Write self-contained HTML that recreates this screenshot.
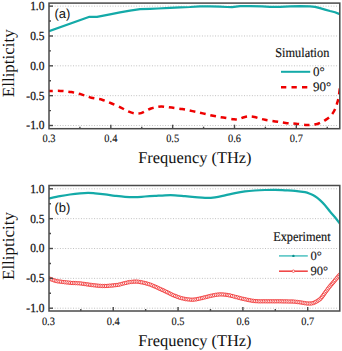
<!DOCTYPE html>
<html><head><meta charset="utf-8"><title>Ellipticity</title>
<style>
html,body{margin:0;padding:0;background:#fff;}
body{width:342px;height:351px;overflow:hidden;}
svg{display:block;text-rendering:geometricPrecision;}
</style></head><body>
<svg width="342" height="351" viewBox="0 0 342 351">
<rect width="342" height="351" fill="#fff"/>
<defs><clipPath id="ct"><rect x="49.0" y="3.1" width="290.8" height="125.6"/></clipPath><clipPath id="cb"><rect x="49.0" y="185.5" width="290.8" height="125.5"/></clipPath></defs>
<line x1="52.00" y1="6.14" x2="338.30" y2="6.14" stroke="#c0c0c0" stroke-width="1" stroke-dasharray="1 1.63"/>
<line x1="52.00" y1="35.98" x2="338.30" y2="35.98" stroke="#c0c0c0" stroke-width="1" stroke-dasharray="1 1.63"/>
<line x1="52.00" y1="65.82" x2="338.30" y2="65.82" stroke="#c0c0c0" stroke-width="1" stroke-dasharray="1 1.63"/>
<line x1="52.00" y1="95.66" x2="338.30" y2="95.66" stroke="#c0c0c0" stroke-width="1" stroke-dasharray="1 1.63"/>
<line x1="52.00" y1="125.50" x2="338.30" y2="125.50" stroke="#c0c0c0" stroke-width="1" stroke-dasharray="1 1.63"/>
<line x1="52.00" y1="188.80" x2="338.30" y2="188.80" stroke="#c0c0c0" stroke-width="1" stroke-dasharray="1 1.63"/>
<line x1="52.00" y1="218.65" x2="338.30" y2="218.65" stroke="#c0c0c0" stroke-width="1" stroke-dasharray="1 1.63"/>
<line x1="52.00" y1="248.50" x2="338.30" y2="248.50" stroke="#c0c0c0" stroke-width="1" stroke-dasharray="1 1.63"/>
<line x1="52.00" y1="278.35" x2="338.30" y2="278.35" stroke="#c0c0c0" stroke-width="1" stroke-dasharray="1 1.63"/>
<line x1="52.00" y1="308.20" x2="338.30" y2="308.20" stroke="#c0c0c0" stroke-width="1" stroke-dasharray="1 1.63"/>
<g clip-path="url(#ct)">
<polyline points="49.00,31.00 89.50,16.60 97.00,16.60 110.00,14.20 120.00,12.20 130.00,10.50 140.00,8.90 150.00,8.60 158.00,8.30 170.00,7.60 180.00,7.20 190.00,6.80 200.00,6.10 210.00,6.10 220.00,6.40 227.00,6.80 232.00,6.90 240.00,5.90 250.00,5.85 262.00,6.10 270.00,6.60 280.00,6.70 290.00,6.10 300.00,5.85 310.00,6.10 315.00,6.70 320.00,7.90 325.00,9.40 330.00,10.80 335.00,12.00 339.80,14.00" fill="none" stroke="#14aaa8" stroke-width="2.2" stroke-linejoin="round" transform="translate(0,0.2)"/>
<path d="M49.00,91.00 C49.33,91.00 49.07,91.02 51.00,91.00 C52.93,90.98 57.22,90.72 60.60,90.90 C63.98,91.08 67.83,91.52 71.30,92.10 C74.77,92.68 78.07,93.47 81.40,94.40 C84.73,95.33 87.87,96.82 91.30,97.70 C94.73,98.58 98.60,98.73 102.00,99.70 C105.40,100.67 108.47,102.13 111.70,103.50 C114.93,104.87 119.02,106.75 121.40,107.90 C123.78,109.05 124.42,109.65 126.00,110.40 C127.58,111.15 129.23,111.88 130.90,112.40 C132.57,112.92 134.30,113.38 136.00,113.50 C137.70,113.62 139.43,113.55 141.10,113.10 C142.77,112.65 144.35,111.57 146.00,110.80 C147.65,110.03 149.33,109.10 151.00,108.50 C152.67,107.90 154.30,107.53 156.00,107.20 C157.70,106.87 159.45,106.55 161.20,106.50 C162.95,106.45 164.73,106.72 166.50,106.90 C168.27,107.08 169.18,107.23 171.80,107.60 C174.42,107.97 178.75,108.52 182.20,109.10 C185.65,109.68 189.07,110.38 192.50,111.10 C195.93,111.82 199.37,112.62 202.80,113.40 C206.23,114.18 209.67,115.10 213.10,115.80 C216.53,116.50 219.92,117.02 223.40,117.60 C226.88,118.18 231.48,119.07 234.00,119.30 C236.52,119.53 236.82,119.35 238.50,119.00 C240.18,118.65 242.35,117.63 244.10,117.20 C245.85,116.77 247.27,116.43 249.00,116.40 C250.73,116.37 252.67,116.63 254.50,117.00 C256.33,117.37 258.23,118.13 260.00,118.60 C261.77,119.07 262.57,119.33 265.10,119.80 C267.63,120.27 271.78,120.88 275.20,121.40 C278.62,121.92 282.13,122.52 285.60,122.90 C289.07,123.28 292.52,123.35 296.00,123.70 C299.48,124.05 304.00,124.80 306.50,125.00 C309.00,125.20 309.22,125.07 311.00,124.90 C312.78,124.73 315.37,124.48 317.20,124.00 C319.03,123.52 320.53,122.73 322.00,122.00 C323.47,121.27 324.67,120.50 326.00,119.60 C327.33,118.70 328.92,117.60 330.00,116.60 C331.08,115.60 331.67,114.82 332.50,113.60 C333.33,112.38 334.25,110.97 335.00,109.30 C335.75,107.63 336.40,105.57 337.00,103.60 C337.60,101.63 338.13,100.02 338.60,97.50 C339.07,94.98 339.60,90.00 339.80,88.50" fill="none" stroke="#ee0000" stroke-width="2.5" stroke-dasharray="5.8 4.76" stroke-dashoffset="1.74" stroke-linecap="butt"/>
</g>
<g clip-path="url(#cb)">
<path d="M49.00,198.40 C50.83,198.03 56.50,196.85 60.00,196.20 C63.50,195.55 66.67,194.98 70.00,194.50 C73.33,194.02 77.00,193.58 80.00,193.30 C83.00,193.02 85.50,192.80 88.00,192.80 C90.50,192.80 92.17,193.03 95.00,193.30 C97.83,193.57 101.67,193.98 105.00,194.40 C108.33,194.82 111.67,195.38 115.00,195.80 C118.33,196.22 121.67,196.67 125.00,196.90 C128.33,197.13 131.67,197.27 135.00,197.20 C138.33,197.13 141.67,196.72 145.00,196.50 C148.33,196.28 151.67,196.10 155.00,195.90 C158.33,195.70 161.67,195.40 165.00,195.30 C168.33,195.20 171.67,195.15 175.00,195.30 C178.33,195.45 181.67,195.90 185.00,196.20 C188.33,196.50 191.67,196.82 195.00,197.10 C198.33,197.38 201.67,197.85 205.00,197.90 C208.33,197.95 211.67,197.82 215.00,197.40 C218.33,196.98 221.67,196.12 225.00,195.40 C228.33,194.68 231.67,193.77 235.00,193.10 C238.33,192.43 241.67,191.83 245.00,191.40 C248.33,190.97 251.67,190.73 255.00,190.50 C258.33,190.27 261.67,190.12 265.00,190.00 C268.33,189.88 271.67,189.75 275.00,189.80 C278.33,189.85 281.67,190.12 285.00,190.30 C288.33,190.48 291.67,190.58 295.00,190.90 C298.33,191.22 302.50,191.72 305.00,192.20 C307.50,192.68 308.33,193.13 310.00,193.80 C311.67,194.47 313.33,195.15 315.00,196.20 C316.67,197.25 318.33,198.60 320.00,200.10 C321.67,201.60 323.33,203.30 325.00,205.20 C326.67,207.10 328.33,209.48 330.00,211.50 C331.67,213.52 333.37,215.28 335.00,217.30 C336.63,219.32 339.00,222.55 339.80,223.60" fill="none" stroke="#14aaa8" stroke-width="2.2" stroke-linejoin="round"/>
<path d="M49.00,278.40 C50.00,278.78 53.17,280.17 55.00,280.70 C56.83,281.23 57.50,281.25 60.00,281.60 C62.50,281.95 66.67,282.50 70.00,282.80 C73.33,283.10 77.00,283.12 80.00,283.40 C83.00,283.68 85.50,284.17 88.00,284.50 C90.50,284.83 92.50,285.15 95.00,285.40 C97.50,285.65 100.50,285.95 103.00,286.00 C105.50,286.05 107.50,285.90 110.00,285.70 C112.50,285.50 115.00,285.35 118.00,284.80 C121.00,284.25 125.17,282.93 128.00,282.40 C130.83,281.87 133.00,281.67 135.00,281.60 C137.00,281.53 137.83,281.62 140.00,282.00 C142.17,282.38 145.50,283.13 148.00,283.90 C150.50,284.67 152.67,285.62 155.00,286.60 C157.33,287.58 159.83,288.80 162.00,289.80 C164.17,290.80 166.33,291.80 168.00,292.60 C169.67,293.40 170.00,293.75 172.00,294.60 C174.00,295.45 177.33,296.90 180.00,297.70 C182.67,298.50 185.50,299.10 188.00,299.40 C190.50,299.70 192.17,299.85 195.00,299.50 C197.83,299.15 202.17,297.95 205.00,297.30 C207.83,296.65 209.50,296.08 212.00,295.60 C214.50,295.12 217.33,294.48 220.00,294.40 C222.67,294.32 225.50,294.70 228.00,295.10 C230.50,295.50 232.17,296.10 235.00,296.80 C237.83,297.50 241.67,298.58 245.00,299.30 C248.33,300.02 251.67,300.77 255.00,301.10 C258.33,301.43 261.67,301.27 265.00,301.30 C268.33,301.33 271.67,301.28 275.00,301.30 C278.33,301.32 281.67,301.33 285.00,301.40 C288.33,301.47 292.00,301.47 295.00,301.70 C298.00,301.93 300.83,302.50 303.00,302.80 C305.17,303.10 306.33,303.45 308.00,303.50 C309.67,303.55 311.33,303.58 313.00,303.10 C314.67,302.62 316.67,301.42 318.00,300.60 C319.33,299.78 319.83,299.50 321.00,298.20 C322.17,296.90 323.50,294.80 325.00,292.80 C326.50,290.80 328.33,288.28 330.00,286.20 C331.67,284.12 333.37,282.23 335.00,280.30 C336.63,278.37 339.00,275.55 339.80,274.60" fill="none" stroke="#f03a3a" stroke-width="1.2" stroke-linejoin="round"/>
<g fill="#fff" stroke="#f03434" stroke-width="0.9"><circle cx="49.0" cy="278.4" r="1.7"/><circle cx="50.7" cy="279.1" r="1.7"/><circle cx="52.4" cy="279.8" r="1.7"/><circle cx="54.1" cy="280.4" r="1.7"/><circle cx="55.8" cy="280.9" r="1.7"/><circle cx="57.5" cy="281.3" r="1.7"/><circle cx="59.3" cy="281.5" r="1.7"/><circle cx="61.0" cy="281.7" r="1.7"/><circle cx="62.9" cy="282.0" r="1.7"/><circle cx="64.7" cy="282.2" r="1.7"/><circle cx="66.6" cy="282.4" r="1.7"/><circle cx="68.5" cy="282.6" r="1.7"/><circle cx="70.3" cy="282.8" r="1.7"/><circle cx="72.0" cy="283.0" r="1.7"/><circle cx="73.8" cy="283.0" r="1.7"/><circle cx="75.6" cy="283.1" r="1.7"/><circle cx="77.4" cy="283.2" r="1.7"/><circle cx="79.3" cy="283.3" r="1.7"/><circle cx="81.1" cy="283.5" r="1.7"/><circle cx="83.0" cy="283.8" r="1.7"/><circle cx="84.8" cy="284.0" r="1.7"/><circle cx="86.5" cy="284.3" r="1.7"/><circle cx="88.2" cy="284.5" r="1.7"/><circle cx="90.0" cy="284.8" r="1.7"/><circle cx="91.7" cy="285.0" r="1.7"/><circle cx="93.4" cy="285.2" r="1.7"/><circle cx="95.2" cy="285.4" r="1.7"/><circle cx="97.0" cy="285.6" r="1.7"/><circle cx="98.8" cy="285.8" r="1.7"/><circle cx="100.6" cy="285.9" r="1.7"/><circle cx="102.4" cy="286.0" r="1.7"/><circle cx="104.3" cy="286.0" r="1.7"/><circle cx="106.0" cy="286.0" r="1.7"/><circle cx="107.9" cy="285.9" r="1.7"/><circle cx="109.6" cy="285.7" r="1.7"/><circle cx="111.5" cy="285.6" r="1.7"/><circle cx="113.2" cy="285.4" r="1.7"/><circle cx="115.0" cy="285.2" r="1.7"/><circle cx="116.9" cy="285.0" r="1.7"/><circle cx="118.7" cy="284.7" r="1.7"/><circle cx="120.4" cy="284.3" r="1.7"/><circle cx="122.3" cy="283.8" r="1.7"/><circle cx="124.1" cy="283.3" r="1.7"/><circle cx="125.9" cy="282.9" r="1.7"/><circle cx="127.8" cy="282.4" r="1.7"/><circle cx="129.6" cy="282.1" r="1.7"/><circle cx="131.5" cy="281.9" r="1.7"/><circle cx="133.3" cy="281.7" r="1.7"/><circle cx="135.0" cy="281.6" r="1.7"/><circle cx="136.8" cy="281.6" r="1.7"/><circle cx="138.6" cy="281.8" r="1.7"/><circle cx="140.3" cy="282.1" r="1.7"/><circle cx="142.0" cy="282.4" r="1.7"/><circle cx="143.9" cy="282.8" r="1.7"/><circle cx="145.6" cy="283.2" r="1.7"/><circle cx="147.2" cy="283.7" r="1.7"/><circle cx="148.9" cy="284.2" r="1.7"/><circle cx="150.7" cy="284.8" r="1.7"/><circle cx="152.4" cy="285.5" r="1.7"/><circle cx="154.1" cy="286.2" r="1.7"/><circle cx="155.7" cy="286.9" r="1.7"/><circle cx="157.3" cy="287.6" r="1.7"/><circle cx="158.9" cy="288.4" r="1.7"/><circle cx="160.5" cy="289.1" r="1.7"/><circle cx="162.2" cy="289.9" r="1.7"/><circle cx="163.8" cy="290.6" r="1.7"/><circle cx="165.3" cy="291.3" r="1.7"/><circle cx="166.9" cy="292.1" r="1.7"/><circle cx="168.6" cy="292.9" r="1.7"/><circle cx="170.1" cy="293.7" r="1.7"/><circle cx="171.7" cy="294.5" r="1.7"/><circle cx="173.3" cy="295.2" r="1.7"/><circle cx="175.1" cy="295.9" r="1.7"/><circle cx="176.8" cy="296.6" r="1.7"/><circle cx="178.5" cy="297.2" r="1.7"/><circle cx="180.2" cy="297.8" r="1.7"/><circle cx="182.0" cy="298.3" r="1.7"/><circle cx="183.9" cy="298.7" r="1.7"/><circle cx="185.7" cy="299.1" r="1.7"/><circle cx="187.4" cy="299.3" r="1.7"/><circle cx="189.2" cy="299.5" r="1.7"/><circle cx="191.1" cy="299.7" r="1.7"/><circle cx="192.9" cy="299.7" r="1.7"/><circle cx="194.6" cy="299.5" r="1.7"/><circle cx="196.4" cy="299.3" r="1.7"/><circle cx="198.1" cy="298.9" r="1.7"/><circle cx="200.0" cy="298.5" r="1.7"/><circle cx="201.9" cy="298.1" r="1.7"/><circle cx="203.6" cy="297.6" r="1.7"/><circle cx="205.4" cy="297.2" r="1.7"/><circle cx="207.1" cy="296.8" r="1.7"/><circle cx="208.8" cy="296.3" r="1.7"/><circle cx="210.6" cy="295.9" r="1.7"/><circle cx="212.4" cy="295.5" r="1.7"/><circle cx="214.1" cy="295.2" r="1.7"/><circle cx="215.9" cy="294.8" r="1.7"/><circle cx="217.8" cy="294.6" r="1.7"/><circle cx="219.6" cy="294.4" r="1.7"/><circle cx="221.4" cy="294.4" r="1.7"/><circle cx="223.2" cy="294.5" r="1.7"/><circle cx="225.1" cy="294.7" r="1.7"/><circle cx="226.9" cy="294.9" r="1.7"/><circle cx="228.5" cy="295.2" r="1.7"/><circle cx="230.2" cy="295.5" r="1.7"/><circle cx="232.0" cy="296.0" r="1.7"/><circle cx="233.8" cy="296.5" r="1.7"/><circle cx="235.7" cy="297.0" r="1.7"/><circle cx="237.5" cy="297.4" r="1.7"/><circle cx="239.3" cy="297.9" r="1.7"/><circle cx="241.1" cy="298.4" r="1.7"/><circle cx="243.0" cy="298.8" r="1.7"/><circle cx="244.7" cy="299.2" r="1.7"/><circle cx="246.5" cy="299.6" r="1.7"/><circle cx="248.3" cy="300.0" r="1.7"/><circle cx="250.0" cy="300.3" r="1.7"/><circle cx="251.8" cy="300.7" r="1.7"/><circle cx="253.5" cy="300.9" r="1.7"/><circle cx="255.2" cy="301.1" r="1.7"/><circle cx="257.0" cy="301.2" r="1.7"/><circle cx="258.8" cy="301.3" r="1.7"/><circle cx="260.5" cy="301.3" r="1.7"/><circle cx="262.3" cy="301.3" r="1.7"/><circle cx="264.0" cy="301.3" r="1.7"/><circle cx="265.8" cy="301.3" r="1.7"/><circle cx="267.5" cy="301.3" r="1.7"/><circle cx="269.2" cy="301.3" r="1.7"/><circle cx="271.0" cy="301.3" r="1.7"/><circle cx="272.8" cy="301.3" r="1.7"/><circle cx="274.5" cy="301.3" r="1.7"/><circle cx="276.2" cy="301.3" r="1.7"/><circle cx="278.0" cy="301.3" r="1.7"/><circle cx="279.8" cy="301.3" r="1.7"/><circle cx="281.5" cy="301.3" r="1.7"/><circle cx="283.2" cy="301.4" r="1.7"/><circle cx="285.0" cy="301.4" r="1.7"/><circle cx="286.8" cy="301.4" r="1.7"/><circle cx="288.6" cy="301.5" r="1.7"/><circle cx="290.4" cy="301.5" r="1.7"/><circle cx="292.1" cy="301.5" r="1.7"/><circle cx="293.8" cy="301.6" r="1.7"/><circle cx="295.7" cy="301.8" r="1.7"/><circle cx="297.4" cy="302.0" r="1.7"/><circle cx="299.3" cy="302.2" r="1.7"/><circle cx="301.1" cy="302.5" r="1.7"/><circle cx="302.8" cy="302.8" r="1.7"/><circle cx="304.6" cy="303.1" r="1.7"/><circle cx="306.4" cy="303.4" r="1.7"/><circle cx="308.1" cy="303.5" r="1.7"/><circle cx="309.9" cy="303.5" r="1.7"/><circle cx="311.6" cy="303.4" r="1.7"/><circle cx="313.4" cy="303.0" r="1.7"/><circle cx="315.0" cy="302.3" r="1.7"/><circle cx="316.5" cy="301.5" r="1.7"/><circle cx="318.0" cy="300.6" r="1.7"/><circle cx="319.4" cy="299.7" r="1.7"/><circle cx="320.7" cy="298.5" r="1.7"/><circle cx="321.9" cy="297.1" r="1.7"/><circle cx="323.0" cy="295.6" r="1.7"/><circle cx="324.0" cy="294.2" r="1.7"/><circle cx="325.1" cy="292.6" r="1.7"/><circle cx="326.2" cy="291.2" r="1.7"/><circle cx="327.3" cy="289.7" r="1.7"/><circle cx="328.3" cy="288.3" r="1.7"/><circle cx="329.5" cy="286.8" r="1.7"/><circle cx="330.6" cy="285.4" r="1.7"/><circle cx="331.8" cy="284.1" r="1.7"/><circle cx="332.9" cy="282.8" r="1.7"/><circle cx="334.0" cy="281.5" r="1.7"/><circle cx="335.1" cy="280.2" r="1.7"/><circle cx="336.3" cy="278.7" r="1.7"/><circle cx="337.4" cy="277.4" r="1.7"/><circle cx="338.6" cy="276.0" r="1.7"/><circle cx="339.7" cy="274.7" r="1.7"/></g>
</g>
<rect x="49.00" y="3.10" width="290.80" height="125.60" fill="none" stroke="#4a4a4a" stroke-width="1.5"/>
<line x1="49.00" y1="6.14" x2="53.00" y2="6.14" stroke="#4a4a4a" stroke-width="1.4"/>
<line x1="49.00" y1="35.98" x2="53.00" y2="35.98" stroke="#4a4a4a" stroke-width="1.4"/>
<line x1="49.00" y1="65.82" x2="53.00" y2="65.82" stroke="#4a4a4a" stroke-width="1.4"/>
<line x1="49.00" y1="95.66" x2="53.00" y2="95.66" stroke="#4a4a4a" stroke-width="1.4"/>
<line x1="49.00" y1="125.50" x2="53.00" y2="125.50" stroke="#4a4a4a" stroke-width="1.4"/>
<line x1="49.00" y1="21.06" x2="51.00" y2="21.06" stroke="#4a4a4a" stroke-width="1.4"/>
<line x1="49.00" y1="50.90" x2="51.00" y2="50.90" stroke="#4a4a4a" stroke-width="1.4"/>
<line x1="49.00" y1="80.74" x2="51.00" y2="80.74" stroke="#4a4a4a" stroke-width="1.4"/>
<line x1="49.00" y1="110.58" x2="51.00" y2="110.58" stroke="#4a4a4a" stroke-width="1.4"/>
<line x1="110.83" y1="128.70" x2="110.83" y2="124.70" stroke="#4a4a4a" stroke-width="1.4"/>
<line x1="172.66" y1="128.70" x2="172.66" y2="124.70" stroke="#4a4a4a" stroke-width="1.4"/>
<line x1="234.49" y1="128.70" x2="234.49" y2="124.70" stroke="#4a4a4a" stroke-width="1.4"/>
<line x1="296.32" y1="128.70" x2="296.32" y2="124.70" stroke="#4a4a4a" stroke-width="1.4"/>
<line x1="79.91" y1="128.70" x2="79.91" y2="126.70" stroke="#4a4a4a" stroke-width="1.4"/>
<line x1="141.75" y1="128.70" x2="141.75" y2="126.70" stroke="#4a4a4a" stroke-width="1.4"/>
<line x1="203.58" y1="128.70" x2="203.58" y2="126.70" stroke="#4a4a4a" stroke-width="1.4"/>
<line x1="265.40" y1="128.70" x2="265.40" y2="126.70" stroke="#4a4a4a" stroke-width="1.4"/>
<line x1="327.24" y1="128.70" x2="327.24" y2="126.70" stroke="#4a4a4a" stroke-width="1.4"/>
<rect x="49.00" y="185.50" width="290.80" height="125.50" fill="none" stroke="#4a4a4a" stroke-width="1.5"/>
<line x1="49.00" y1="188.80" x2="53.00" y2="188.80" stroke="#4a4a4a" stroke-width="1.4"/>
<line x1="49.00" y1="218.65" x2="53.00" y2="218.65" stroke="#4a4a4a" stroke-width="1.4"/>
<line x1="49.00" y1="248.50" x2="53.00" y2="248.50" stroke="#4a4a4a" stroke-width="1.4"/>
<line x1="49.00" y1="278.35" x2="53.00" y2="278.35" stroke="#4a4a4a" stroke-width="1.4"/>
<line x1="49.00" y1="308.20" x2="53.00" y2="308.20" stroke="#4a4a4a" stroke-width="1.4"/>
<line x1="49.00" y1="203.72" x2="51.00" y2="203.72" stroke="#4a4a4a" stroke-width="1.4"/>
<line x1="49.00" y1="233.57" x2="51.00" y2="233.57" stroke="#4a4a4a" stroke-width="1.4"/>
<line x1="49.00" y1="263.43" x2="51.00" y2="263.43" stroke="#4a4a4a" stroke-width="1.4"/>
<line x1="49.00" y1="293.27" x2="51.00" y2="293.27" stroke="#4a4a4a" stroke-width="1.4"/>
<line x1="113.23" y1="311.00" x2="113.23" y2="307.00" stroke="#4a4a4a" stroke-width="1.4"/>
<line x1="178.06" y1="311.00" x2="178.06" y2="307.00" stroke="#4a4a4a" stroke-width="1.4"/>
<line x1="242.89" y1="311.00" x2="242.89" y2="307.00" stroke="#4a4a4a" stroke-width="1.4"/>
<line x1="307.72" y1="311.00" x2="307.72" y2="307.00" stroke="#4a4a4a" stroke-width="1.4"/>
<line x1="80.81" y1="311.00" x2="80.81" y2="309.00" stroke="#4a4a4a" stroke-width="1.4"/>
<line x1="145.65" y1="311.00" x2="145.65" y2="309.00" stroke="#4a4a4a" stroke-width="1.4"/>
<line x1="210.48" y1="311.00" x2="210.48" y2="309.00" stroke="#4a4a4a" stroke-width="1.4"/>
<line x1="275.31" y1="311.00" x2="275.31" y2="309.00" stroke="#4a4a4a" stroke-width="1.4"/>
<text transform="translate(44.4,10.04) scale(0.92,1)" text-anchor="end" style="font-family:'Liberation Serif',serif;font-size:12.4px" fill="#111" stroke="#111" stroke-width="0.25">1.0</text>
<text transform="translate(44.4,39.88) scale(0.92,1)" text-anchor="end" style="font-family:'Liberation Serif',serif;font-size:12.4px" fill="#111" stroke="#111" stroke-width="0.25">0.5</text>
<text transform="translate(44.4,69.72) scale(0.92,1)" text-anchor="end" style="font-family:'Liberation Serif',serif;font-size:12.4px" fill="#111" stroke="#111" stroke-width="0.25">0.0</text>
<text transform="translate(44.4,99.56) scale(0.92,1)" text-anchor="end" style="font-family:'Liberation Serif',serif;font-size:12.4px" fill="#111" stroke="#111" stroke-width="0.25">-0.5</text>
<text transform="translate(44.4,129.40) scale(0.92,1)" text-anchor="end" style="font-family:'Liberation Serif',serif;font-size:12.4px" fill="#111" stroke="#111" stroke-width="0.25">-1.0</text>
<text transform="translate(44.4,192.70) scale(0.92,1)" text-anchor="end" style="font-family:'Liberation Serif',serif;font-size:12.4px" fill="#111" stroke="#111" stroke-width="0.25">1.0</text>
<text transform="translate(44.4,222.55) scale(0.92,1)" text-anchor="end" style="font-family:'Liberation Serif',serif;font-size:12.4px" fill="#111" stroke="#111" stroke-width="0.25">0.5</text>
<text transform="translate(44.4,252.40) scale(0.92,1)" text-anchor="end" style="font-family:'Liberation Serif',serif;font-size:12.4px" fill="#111" stroke="#111" stroke-width="0.25">0.0</text>
<text transform="translate(44.4,282.25) scale(0.92,1)" text-anchor="end" style="font-family:'Liberation Serif',serif;font-size:12.4px" fill="#111" stroke="#111" stroke-width="0.25">-0.5</text>
<text transform="translate(44.4,312.10) scale(0.92,1)" text-anchor="end" style="font-family:'Liberation Serif',serif;font-size:12.4px" fill="#111" stroke="#111" stroke-width="0.25">-1.0</text>
<text transform="translate(49.00,141.50) scale(0.93,1)" text-anchor="middle" style="font-family:'Liberation Serif',serif;font-size:11.2px" fill="#111" stroke="#111" stroke-width="0.1">0.3</text>
<text transform="translate(110.83,141.50) scale(0.93,1)" text-anchor="middle" style="font-family:'Liberation Serif',serif;font-size:11.2px" fill="#111" stroke="#111" stroke-width="0.1">0.4</text>
<text transform="translate(172.66,141.50) scale(0.93,1)" text-anchor="middle" style="font-family:'Liberation Serif',serif;font-size:11.2px" fill="#111" stroke="#111" stroke-width="0.1">0.5</text>
<text transform="translate(234.49,141.50) scale(0.93,1)" text-anchor="middle" style="font-family:'Liberation Serif',serif;font-size:11.2px" fill="#111" stroke="#111" stroke-width="0.1">0.6</text>
<text transform="translate(296.32,141.50) scale(0.93,1)" text-anchor="middle" style="font-family:'Liberation Serif',serif;font-size:11.2px" fill="#111" stroke="#111" stroke-width="0.1">0.7</text>
<text transform="translate(48.40,324.60) scale(0.93,1)" text-anchor="middle" style="font-family:'Liberation Serif',serif;font-size:11.2px" fill="#111" stroke="#111" stroke-width="0.1">0.3</text>
<text transform="translate(113.23,324.60) scale(0.93,1)" text-anchor="middle" style="font-family:'Liberation Serif',serif;font-size:11.2px" fill="#111" stroke="#111" stroke-width="0.1">0.4</text>
<text transform="translate(178.06,324.60) scale(0.93,1)" text-anchor="middle" style="font-family:'Liberation Serif',serif;font-size:11.2px" fill="#111" stroke="#111" stroke-width="0.1">0.5</text>
<text transform="translate(242.89,324.60) scale(0.93,1)" text-anchor="middle" style="font-family:'Liberation Serif',serif;font-size:11.2px" fill="#111" stroke="#111" stroke-width="0.1">0.6</text>
<text transform="translate(307.72,324.60) scale(0.93,1)" text-anchor="middle" style="font-family:'Liberation Serif',serif;font-size:11.2px" fill="#111" stroke="#111" stroke-width="0.1">0.7</text>
<text transform="translate(14.3,63.20) rotate(-90)" text-anchor="middle" style="font-family:'Liberation Serif',serif;font-size:17px" fill="#111">Ellipticity</text>
<text x="194.9" y="163.40" text-anchor="middle" style="font-family:'Liberation Serif',serif;font-size:16.4px" fill="#111">Frequency (THz)</text>
<text transform="translate(14.3,246.00) rotate(-90)" text-anchor="middle" style="font-family:'Liberation Serif',serif;font-size:17px" fill="#111">Ellipticity</text>
<text x="194.9" y="345.70" text-anchor="middle" style="font-family:'Liberation Serif',serif;font-size:16.4px" fill="#111">Frequency (THz)</text>
<text x="54.5" y="18.4" style="font-family:'Liberation Sans',sans-serif;font-size:13px" fill="#111">(a)</text>
<text x="54.5" y="211.8" style="font-family:'Liberation Sans',sans-serif;font-size:13px" fill="#111">(b)</text>
<text transform="translate(302.3,57.1) scale(0.92,1)" text-anchor="middle" style="font-family:'Liberation Serif',serif;font-size:13.4px" fill="#111" stroke="#111" stroke-width="0.15">Simulation</text>
<line x1="281" y1="71.8" x2="310.2" y2="71.8" stroke="#14aaa8" stroke-width="2"/>
<text x="313.1" y="76.1" style="font-family:'Liberation Serif',serif;font-size:13px" fill="#111" stroke="#111" stroke-width="0.1">0°</text>
<line x1="281" y1="87.2" x2="310.2" y2="87.2" stroke="#ee0000" stroke-width="2.6" stroke-dasharray="5.3 5.2"/>
<text x="313.1" y="91.3" style="font-family:'Liberation Serif',serif;font-size:13px" fill="#111" stroke="#111" stroke-width="0.1">90°</text>
<text transform="translate(301.9,241.1) scale(0.92,1)" text-anchor="middle" style="font-family:'Liberation Serif',serif;font-size:13.4px" fill="#111" stroke="#111" stroke-width="0.15">Experiment</text>
<line x1="279" y1="255.9" x2="307.8" y2="255.9" stroke="#58c6c4" stroke-width="1.6"/>
<circle cx="293.4" cy="255.9" r="1.2" fill="#0a8f8c"/>
<text x="310.5" y="259.8" style="font-family:'Liberation Serif',serif;font-size:12.6px" fill="#111" stroke="#111" stroke-width="0.1">0°</text>
<line x1="279" y1="271.2" x2="307.8" y2="271.2" stroke="#f04848" stroke-width="1.6"/>
<circle cx="293.4" cy="271.2" r="1.25" fill="#fff" stroke="#f04848" stroke-width="0.8"/>
<text x="310.5" y="275.1" style="font-family:'Liberation Serif',serif;font-size:12.6px" fill="#111" stroke="#111" stroke-width="0.1">90°</text>
</svg>
</body></html>
